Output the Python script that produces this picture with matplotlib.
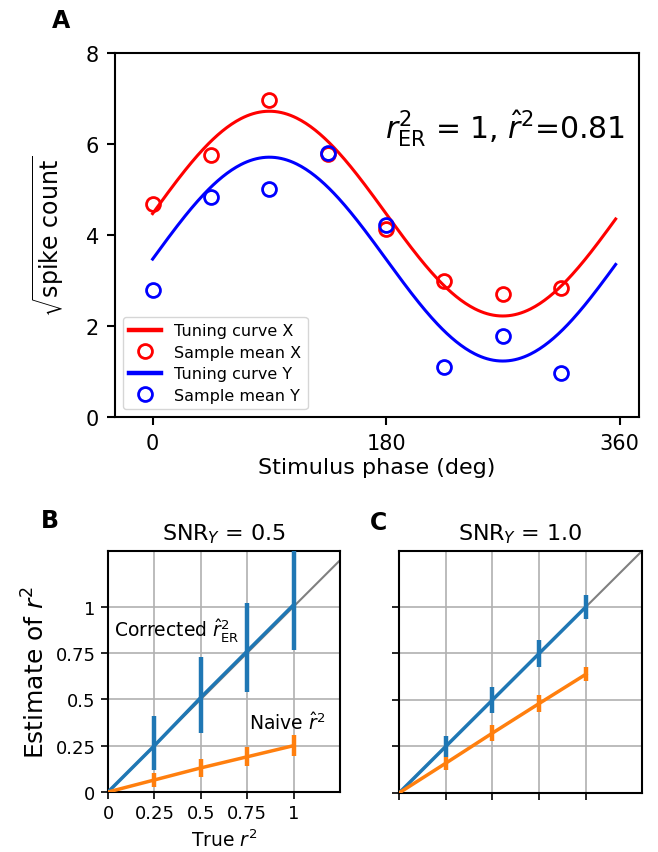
import numpy as np
import matplotlib
matplotlib.use("Agg")
from matplotlib import pyplot as plt

plt.rcParams['font.family'] = ['DejaVu Sans']
plt.rcParams['mathtext.fontset'] = 'dejavusans'

# panel A: sample means at each stimulus phase
phase_deg = [0, 45, 90, 135, 180, 225, 270, 315]
mean_x = [4.69, 5.75, 6.96, 5.78, 4.14, 2.99, 2.70, 2.83]
mean_y = [2.79, 4.84, 5.02, 5.80, 4.22, 1.09, 1.77, 0.96]

# tuning curves: offset + amplitude * sin(phase)
curve_x_offset, curve_x_amp = 4.47, 2.25
curve_y_offset, curve_y_amp = 3.47, 2.24
curve_end_deg = 357

# panels B and C
true_r2 = [0, 0.25, 0.5, 0.75, 1.0]
tick_labels = ['0', '0.25', '0.5', '0.75', '1']

b_corr = [0, 0.25, 0.51, 0.76, 1.01]
b_corr_lo = [0, 0.13, 0.19, 0.22, 0.245]
b_corr_hi = [0, 0.16, 0.22, 0.26, 0.35]
b_naive = [0, 0.065, 0.13, 0.19, 0.25]
b_naive_err = [0, 0.038, 0.047, 0.052, 0.056]

c_corr = [0, 0.25, 0.50, 0.75, 1.0]
c_corr_err = [0, 0.057, 0.07, 0.071, 0.063]
c_naive = [0, 0.16, 0.322, 0.481, 0.638]
c_naive_err = [0, 0.034, 0.042, 0.045, 0.038]

fig = plt.figure(figsize=(6.58, 8.53), dpi=100)
W, H = 658.0, 853.0

def f_rect(x0, y0, x1, y1):
    return [x0 / W, 1 - y1 / H, (x1 - x0) / W, (y1 - y0) / H]

# ---------------- panel A
ax_a = fig.add_axes(f_rect(115, 54, 639, 418))
th = np.linspace(0, curve_end_deg, 300)
ax_a.plot(th, curve_x_offset + curve_x_amp * np.sin(np.deg2rad(th)), color='red', lw=2.2, label='Tuning curve X')
ax_a.plot(phase_deg, mean_x, 'o', mfc='none', mec='red', mew=2, ms=10, label='Sample mean X')
ax_a.plot(th, curve_y_offset + curve_y_amp * np.sin(np.deg2rad(th)), color='blue', lw=2.2, label='Tuning curve Y')
ax_a.plot(phase_deg, mean_y, 'o', mfc='none', mec='blue', mew=2, ms=10, label='Sample mean Y')
ax_a.set_xlim(-29, 375)
ax_a.set_ylim(0, 8)
ax_a.set_xticks([0, 180, 360])
ax_a.set_yticks([0, 2, 4, 6, 8])
ax_a.tick_params(labelsize=15, width=1.5, length=6, pad=5.5)
for s in ax_a.spines.values():
    s.set_linewidth(1.5)
ax_a.set_xlabel('Stimulus phase (deg)', fontsize=16, labelpad=3)
ax_a.set_ylabel(r'$\sqrt{\mathrm{spike\ count}}$', fontsize=17, labelpad=14)
leg = ax_a.legend(loc='lower left', fontsize=11.5, handlelength=2.0, borderpad=0.4, labelspacing=0.4)
for ln in leg.get_lines():
    if ln.get_linestyle() == '-':
        ln.set_linewidth(3.2)
ax_a.text(364, 6.35, r'$r^2_{\mathrm{ER}}$ = 1, $\hat{r}^2$=0.81', fontsize=21.5, ha='right', va='center')
fig.text(61 / W, 1 - 21 / H, 'A', fontsize=17, fontweight='bold', ha='center', va='center')

# ---------------- panels B and C
def f_panel(ax, xmax, ymax, corr, corr_err, naive, naive_err, title):
    ax.plot([0, 1.5], [0, 1.5], color='gray', lw=1.5, zorder=1)
    ax.errorbar(true_r2, corr, yerr=corr_err, color='#1f77b4', lw=2.5, elinewidth=3.2, capsize=0, zorder=3)
    ax.errorbar(true_r2, naive, yerr=naive_err, color='#ff7f0e', lw=2.5, elinewidth=3.2, capsize=0, zorder=3)
    ax.set_xlim(0, xmax)
    ax.set_ylim(0, ymax)
    ax.set_xticks(true_r2)
    ax.set_yticks(true_r2)
    ax.grid(True, color='#b0b0b0', lw=1.2, zorder=0)
    ax.set_axisbelow(True)
    ax.tick_params(labelsize=13, width=1.2, length=5, pad=4)
    for s in ax.spines.values():
        s.set_linewidth(1.5)
    ax.set_title(title, fontsize=16, pad=8)

ax_b = fig.add_axes(f_rect(108, 552, 340, 793))
f_panel(ax_b, 1.25, 1.3, b_corr, [b_corr_lo, b_corr_hi], b_naive, b_naive_err, r'SNR$_Y$ = 0.5')
ax_b.set_xticklabels(tick_labels)
ax_b.set_yticklabels(tick_labels)
ax_b.set_xlabel(r'True $r^2$', fontsize=13.5)
ax_b.set_ylabel(r'Estimate of $r^2$', fontsize=18)
ax_b.text(0.03, 0.87, r'Corrected $\hat{r}^2_{\mathrm{ER}}$', fontsize=13.5, ha='left', va='center')
ax_b.text(0.76, 0.375, r'Naive $\hat{r}^2$', fontsize=13.5, ha='left', va='center')
fig.text(50 / W, 1 - 521 / H, 'B', fontsize=17, fontweight='bold', ha='center', va='center')

ax_c = fig.add_axes(f_rect(399, 552, 642, 794))
f_panel(ax_c, 1.3, 1.3, c_corr, c_corr_err, c_naive, c_naive_err, r'SNR$_Y$ = 1.0')
ax_c.set_xticklabels([])
ax_c.set_yticklabels([])
fig.text(378 / W, 1 - 523 / H, 'C', fontsize=17, fontweight='bold', ha='center', va='center')

fig.savefig('out.png', dpi=100)
